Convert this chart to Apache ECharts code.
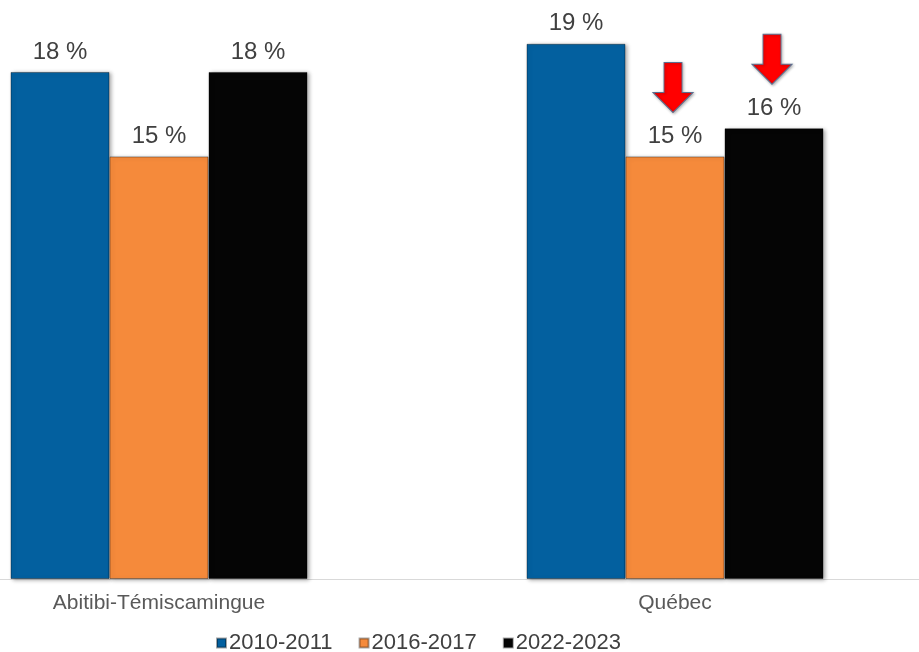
<!DOCTYPE html>
<html>
<head>
<meta charset="utf-8">
<script src="https://cdn.jsdelivr.net/npm/echarts@6/dist/echarts.min.js"></script>
<style>
html,body{margin:0;padding:0;background:#fff;overflow:hidden;width:919px;height:652px;}
#chart{position:absolute;left:-99px;top:0;width:1032px;height:652px;}
</style>
</head>
<body>
<div id="chart"></div>
<script>
const categories = ['Abitibi-Témiscamingue', 'Québec'];
const seriesNames = ['2010-2011', '2016-2017', '2022-2023'];
const values2010 = [18, 19];
const values2016 = [15, 15];
const values2022 = [18, 16];
const arrowTargets = [
  { series: '2016-2017', category: 'Québec', value: 15 },
  { series: '2022-2023', category: 'Québec', value: 16 }
];

const colors = ['#03609F', '#F58A3B', '#050505'];
const allValues = [values2010, values2016, values2022];
const arrowPath = 'path://M11,0 L29,0 L29,30 L40,30 L20,50 L0,30 L11,30 Z';
const FONT = "'Liberation Sans', Arial, sans-serif";

const chart = echarts.init(document.getElementById('chart'));

const series = seriesNames.map(function (name, i) {
  const marks = arrowTargets.filter(function (a) { return a.series === name; })
    .map(function (a) {
      return { coord: [a.category, a.value] };
    });
  return {
    name: name,
    type: 'bar',
    data: allValues[i],
    barWidth: 99,
    barGap: '0%',
    itemStyle: {
      color: colors[i],
      borderColor: 'rgba(0,0,0,0.35)',
      borderWidth: 1,
      shadowColor: 'rgba(0,0,0,0.35)',
      shadowBlur: 4,
      shadowOffsetX: 2,
      shadowOffsetY: 1
    },
    label: {
      show: true,
      position: 'top',
      distance: 8,
      formatter: '{c} %',
      fontFamily: FONT,
      fontSize: 24,
      color: '#404040'
    },
    markPoint: marks.length ? {
      symbol: arrowPath,
      symbolSize: [40, 50],
      symbolOffset: [-2, -69],
      itemStyle: {
        color: '#FF0000',
        borderColor: '#5a6f90',
        borderWidth: 1,
        shadowColor: 'rgba(0,0,0,0.3)',
        shadowBlur: 3,
        shadowOffsetX: 1,
        shadowOffsetY: 1
      },
      label: { show: false },
      data: marks
    } : undefined
  };
});

chart.setOption({
  animation: false,
  backgroundColor: '#fff',
  grid: { left: 0, right: 0, top: 15.6, bottom: 73, containLabel: false },
  legend: {
    data: seriesNames,
    left: 315,
    top: 632,
    padding: 0,
    itemWidth: 9,
    itemHeight: 9,
    itemGap: 26,
    icon: 'rect',
    textStyle: { fontFamily: FONT, fontSize: 22, color: '#404040', padding: [0, 0, 0, -2] }
  },
  xAxis: {
    type: 'category',
    data: categories,
    axisLine: { show: true, lineStyle: { color: '#d9d9d9', width: 1 } },
    axisTick: { show: false },
    axisLabel: { fontFamily: FONT, fontSize: 21, color: '#595959', margin: 14 }
  },
  yAxis: {
    type: 'value',
    min: 0,
    max: 20,
    show: false,
    splitLine: { show: false }
  },
  series: series
});
</script>
</body>
</html>
